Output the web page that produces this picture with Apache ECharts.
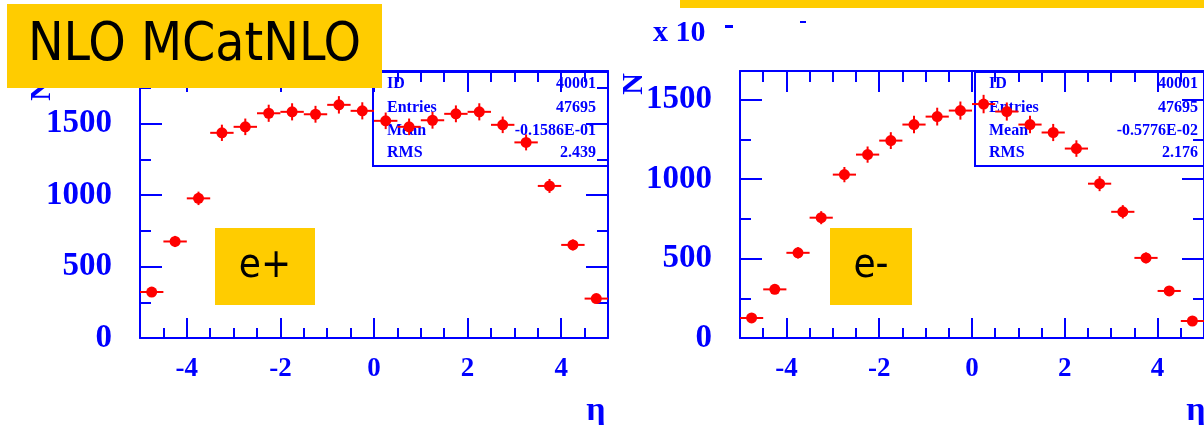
<!DOCTYPE html>
<html>
<head>
<meta charset="utf-8">
<title>η distributions, e+ and e-</title>
<script src="https://cdn.jsdelivr.net/npm/echarts@6/dist/echarts.min.js"></script>
<style>
  html, body { margin: 0; padding: 0; background: #fff; }
  #chart { width: 1204px; height: 425px; }
</style>
</head>
<body>
<div id="chart"></div>
<script>
// Bin centres in eta (bins of width 0.5 from -5 to 5)
const etaCenters = [-4.75, -4.25, -3.75, -3.25, -2.75, -2.25, -1.75, -1.25, -0.75, -0.25,
                     0.25,  0.75,  1.25,  1.75,  2.25,  2.75,  3.25,  3.75,  4.25,  4.75];
const BIN_WIDTH = 0.5;

// Positron histogram: bin contents and error half-heights
const ePlusCounts = [322, 676, 978, 1437, 1479, 1574, 1584, 1567, 1633, 1591,
                     1521, 1479, 1525, 1570, 1584, 1493, 1370, 1065, 652, 276];
const ePlusErrors = [27, 39, 47, 57, 58, 60, 60, 59, 61, 60,
                     58, 58, 59, 59, 60, 58, 56, 49, 38, 25];

// Electron histogram: bin contents and error half-heights
const eMinusCounts = [126, 306, 536, 757, 1028, 1154, 1242, 1343, 1393, 1431,
                      1472, 1425, 1343, 1293, 1192, 971, 794, 504, 296, 107];
const eMinusErrors = [17, 26, 35, 41, 48, 51, 53, 55, 56, 57,
                      58, 57, 55, 54, 52, 47, 42, 34, 26, 16];

// Axis tick positions
const xMajorTicks = [-4, -2, 0, 2, 4];
const xMinorTicks = [-4.5, -3.5, -3, -2.5, -1.5, -1, -0.5, 0.5, 1, 1.5, 2.5, 3, 3.5, 4.5];
const yMajorTicks = [0, 500, 1000, 1500];
const yMinorTicks = [250, 750, 1250, 1750];

// Statistics box contents
const statLabels = ['ID', 'Entries', 'Mean', 'RMS'];
const ePlusStats = ['40001', '47695', '-0.1586E-01', '2.439'];
const eMinusStats = ['40001', '47695', '-0.5776E-02', '2.176'];

const BLUE = '#0000ff';
const RED = '#ff0000';
const YELLOW = '#ffcc00';
const SERIF = '"Liberation Serif", "DejaVu Serif", serif';
const SANS = '"DejaVu Sans Condensed", "DejaVu Sans", sans-serif';

// Panel frames (pixels) and vertical ranges
const panels = [
  { left: 140, top: 71, width: 468, height: 267, yMax: 1870 },
  { left: 740, top: 71, width: 470, height: 267, yMax: 1680 }
];

const plainNumber = v => String(v);

function xAxesFor(gi) {
  const base = { type: 'value', gridIndex: gi, min: -5, max: 5, splitLine: { show: false } };
  const tickStyle = { color: BLUE, width: 2 };
  return [
    Object.assign({}, base, {
      position: 'bottom',
      axisLine: { show: true, onZero: false, lineStyle: { color: BLUE, width: 2 } },
      axisTick: { show: true, inside: true, length: 20, customValues: xMajorTicks, lineStyle: tickStyle },
      axisLabel: { show: true, customValues: xMajorTicks, formatter: plainNumber, color: BLUE,
                   fontFamily: SERIF, fontWeight: 'bold', fontSize: 27, margin: 18 }
    }),
    Object.assign({}, base, {
      position: 'bottom',
      axisLine: { show: false, onZero: false },
      axisTick: { show: true, inside: true, length: 10, customValues: xMinorTicks, lineStyle: tickStyle },
      axisLabel: { show: false }
    }),
    Object.assign({}, base, {
      position: 'top',
      axisLine: { show: true, onZero: false, lineStyle: { color: BLUE, width: 2 } },
      axisTick: { show: true, inside: true, length: 21, customValues: xMajorTicks, lineStyle: tickStyle },
      axisLabel: { show: false }
    }),
    Object.assign({}, base, {
      position: 'top',
      axisLine: { show: false, onZero: false },
      axisTick: { show: true, inside: true, length: 11, customValues: xMinorTicks, lineStyle: tickStyle },
      axisLabel: { show: false }
    })
  ];
}

function yAxesFor(gi) {
  const yMax = panels[gi].yMax;
  const minor = yMinorTicks.filter(v => v < yMax);
  const base = { type: 'value', gridIndex: gi, min: 0, max: yMax, splitLine: { show: false } };
  const tickStyle = { color: BLUE, width: 2 };
  return [
    Object.assign({}, base, {
      position: 'left',
      axisLine: { show: true, onZero: false, lineStyle: { color: BLUE, width: 2 } },
      axisTick: { show: true, inside: true, length: 22, customValues: yMajorTicks, lineStyle: tickStyle },
      axisLabel: { show: true, customValues: yMajorTicks, formatter: plainNumber, color: BLUE,
                   fontFamily: SERIF, fontWeight: 'bold', fontSize: 33, margin: 28,
                   padding: [10, 0, 0, 0] }
    }),
    Object.assign({}, base, {
      position: 'left',
      axisLine: { show: false, onZero: false },
      axisTick: { show: true, inside: true, length: 11, customValues: minor, lineStyle: tickStyle },
      axisLabel: { show: false }
    }),
    Object.assign({}, base, {
      position: 'right',
      axisLine: { show: true, onZero: false, lineStyle: { color: BLUE, width: 2 } },
      axisTick: { show: true, inside: true, length: 22, customValues: yMajorTicks, lineStyle: tickStyle },
      axisLabel: { show: false }
    }),
    Object.assign({}, base, {
      position: 'right',
      axisLine: { show: false, onZero: false },
      axisTick: { show: true, inside: true, length: 11, customValues: minor, lineStyle: tickStyle },
      axisLabel: { show: false }
    })
  ];
}

// One histogram bin: horizontal bar over the bin width, vertical error bar, round marker
function renderBin(params, api) {
  const x = api.value(0), n = api.value(1), err = api.value(2);
  const l = api.coord([x - BIN_WIDTH / 2, n]);
  const r = api.coord([x + BIN_WIDTH / 2, n]);
  const lo = api.coord([x, n - err]);
  const hi = api.coord([x, n + err]);
  const c = api.coord([x, n]);
  return {
    type: 'group',
    children: [
      { type: 'line', shape: { x1: l[0], y1: l[1], x2: r[0], y2: r[1] }, style: { stroke: RED, lineWidth: 2 } },
      { type: 'line', shape: { x1: lo[0], y1: lo[1], x2: hi[0], y2: hi[1] }, style: { stroke: RED, lineWidth: 2 } },
      { type: 'circle', shape: { cx: c[0], cy: c[1], r: 5.5 }, style: { fill: RED } }
    ]
  };
}

function histData(counts, errors) {
  return etaCenters.map((x, i) => [x, counts[i], errors[i]]);
}

function statsBox(gi, values) {
  const p = panels[gi];
  const right = p.left + p.width;
  const boxLeft = right - 235;
  const rows = [84, 108, 131, 153];
  const els = [{
    type: 'rect', z: 1,
    shape: { x: boxLeft, y: p.top + 1, width: 235, height: 94 },
    style: { fill: 'none', stroke: BLUE, lineWidth: 2 }
  }];
  statLabels.forEach((lab, i) => {
    els.push({ type: 'text', z: 1, x: boxLeft + 14, y: rows[i],
      style: { text: lab, fill: BLUE, font: 'bold 16px ' + SERIF, align: 'left', verticalAlign: 'middle' } });
    els.push({ type: 'text', z: 1, x: boxLeft + 223, y: rows[i],
      style: { text: values[i], fill: BLUE, font: 'bold 16px ' + SERIF, align: 'right', verticalAlign: 'middle' } });
  });
  return els;
}

function labelBox(x, y, w, h, text, size) {
  return [
    { type: 'rect', z: 100, shape: { x: x, y: y, width: w, height: h }, style: { fill: YELLOW } },
    { type: 'text', z: 101, x: x + w / 2, y: y + h / 2,
      style: { text: text, fill: '#000', font: size + 'px ' + SANS, align: 'center', verticalAlign: 'middle' } }
  ];
}

const graphics = [].concat(
  statsBox(0, ePlusStats),
  statsBox(1, eMinusStats),
  // y-axis titles (rotated) and eta axis titles
  [
    { type: 'text', z: 5, x: 42, y: 90, rotation: Math.PI / 2,
      style: { text: 'N', fill: BLUE, font: 'bold 30px ' + SERIF, align: 'center', verticalAlign: 'middle' } },
    { type: 'text', z: 5, x: 634, y: 84, rotation: Math.PI / 2,
      style: { text: 'N', fill: BLUE, font: 'bold 30px ' + SERIF, align: 'center', verticalAlign: 'middle' } },
    { type: 'text', z: 5, x: 596, y: 411,
      style: { text: 'η', fill: BLUE, font: 'bold 34px ' + SERIF, align: 'center', verticalAlign: 'middle' } },
    { type: 'text', z: 5, x: 1196, y: 411,
      style: { text: 'η', fill: BLUE, font: 'bold 34px ' + SERIF, align: 'center', verticalAlign: 'middle' } },
    { type: 'text', z: 5, x: 653, y: 33,
      style: { text: 'x 10', fill: BLUE, font: 'bold 30px ' + SERIF, align: 'left', verticalAlign: 'middle' } },
    { type: 'rect', z: 5, shape: { x: 725, y: 25, width: 8, height: 3 }, style: { fill: BLUE } },
    { type: 'rect', z: 5, shape: { x: 800, y: 21, width: 6, height: 2 }, style: { fill: BLUE } }
  ],
  labelBox(7, 4, 375, 84, 'NLO MCatNLO', 53),
  [{ type: 'rect', z: 100, shape: { x: 680, y: 0, width: 524, height: 8 }, style: { fill: YELLOW } }],
  labelBox(215, 228, 100, 77, 'e+', 40),
  labelBox(830, 228, 82, 77, 'e-', 40)
);

const chart = echarts.init(document.getElementById('chart'), null, { renderer: 'canvas' });
chart.setOption({
  animation: false,
  backgroundColor: '#ffffff',
  grid: panels.map(p => ({ left: p.left, top: p.top, width: p.width, height: p.height, containLabel: false })),
  xAxis: xAxesFor(0).concat(xAxesFor(1)),
  yAxis: yAxesFor(0).concat(yAxesFor(1)),
  series: [
    { name: 'e+', type: 'custom', xAxisIndex: 0, yAxisIndex: 0, z: 3,
      renderItem: renderBin, data: histData(ePlusCounts, ePlusErrors) },
    { name: 'e-', type: 'custom', xAxisIndex: 4, yAxisIndex: 4, z: 3,
      renderItem: renderBin, data: histData(eMinusCounts, eMinusErrors) }
  ],
  graphic: graphics
});
</script>
</body>
</html>
